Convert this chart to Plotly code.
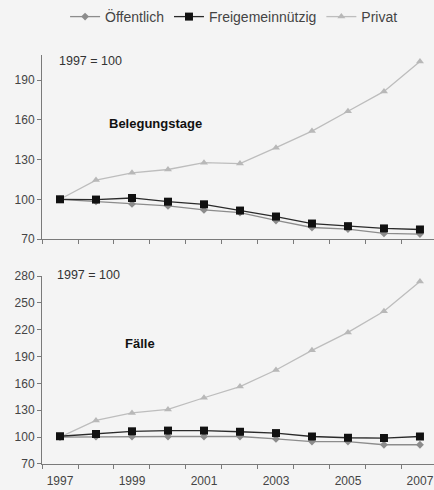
import plotly.graph_objects as go
from plotly.subplots import make_subplots

years = ["1997", "1998", "1999", "2000", "2001", "2002", "2003", "2004", "2005", "2006", "2007"]
tick_text = ["1997", "", "1999", "", "2001", "", "2003", "", "2005", "", "2007"]

# Belegungstage (1997 = 100)
bt_oeff = [100, 98.5, 96.5, 95, 92, 90, 84, 78.7, 77.5, 74.2, 73.7]
bt_frei = [100, 99.8, 101, 98.2, 96.2, 91.5, 87, 81.7, 79.7, 78, 77.2]
bt_priv = [100, 114.5, 120, 122.5, 127.7, 127, 139, 151.5, 166.5, 181.5, 204]

# Fälle (1997 = 100)
fa_oeff = [100, 100.5, 100.7, 100.7, 100.7, 100.7, 98, 95, 95, 91.5, 91.5]
fa_frei = [101, 103.5, 106.5, 107.3, 107.3, 106, 104.5, 100.7, 99.3, 99, 100.7]
fa_priv = [100, 118.6, 127, 131, 144, 156.5, 175, 197, 217, 240.6, 274]

top_ticks = [70, 100, 130, 160, 190]
bottom_ticks = [70, 100, 130, 160, 190, 220, 250, 280]

styles = {
    "Öffentlich": dict(line=dict(color="#8c8c8c", width=1.3),
                       marker=dict(symbol="diamond", size=6, color="#8c8c8c")),
    "Freigemeinnützig": dict(line=dict(color="#2a2a2a", width=1.3),
                             marker=dict(symbol="square", size=8, color="#111111")),
    "Privat": dict(line=dict(color="#bdbdbd", width=1.3),
                   marker=dict(symbol="triangle-up", size=7, color="#b8b8b8")),
}

fig = make_subplots(rows=2, cols=1)

top_data = {"Privat": bt_priv, "Öffentlich": bt_oeff, "Freigemeinnützig": bt_frei}
bot_data = {"Privat": fa_priv, "Öffentlich": fa_oeff, "Freigemeinnützig": fa_frei}

legend_order = {"Öffentlich": 1, "Freigemeinnützig": 2, "Privat": 3}
for name in ["Privat", "Öffentlich", "Freigemeinnützig"]:
    fig.add_trace(go.Scatter(x=years, y=top_data[name], name=name, mode="lines+markers",
                             legendrank=legend_order[name], showlegend=True,
                             **styles[name]), row=1, col=1)
    fig.add_trace(go.Scatter(x=years, y=bot_data[name], name=name, mode="lines+markers",
                             showlegend=False, **styles[name]), row=2, col=1)

axis_common = dict(showgrid=False, zeroline=False, showline=True, linecolor="#7a7a7a",
                   linewidth=1, ticks="outside", ticklen=4, tickcolor="#7a7a7a",
                   automargin=False,
                   tickfont=dict(family="Liberation Sans, Arial", size=12, color="#444444"))

fig.update_xaxes(type="category", categoryorder="array", categoryarray=years,
                 tickson="boundaries", tickmode="array", tickvals=years, tickangle=0,
                 range=[-0.5, 10.39], **axis_common)
fig.update_xaxes(showticklabels=False, row=1, col=1)
fig.update_xaxes(ticktext=tick_text, ticklabelstandoff=6, row=2, col=1)
fig.update_xaxes(domain=[0, 1])

fig.update_yaxes(**axis_common)
fig.update_yaxes(range=[70, 209], tickvals=top_ticks, domain=[0.5122, 0.8878], row=1, col=1)
fig.update_yaxes(range=[70, 280], tickvals=bottom_ticks, domain=[0.0531, 0.4367], row=2, col=1)

ann_font = dict(family="Liberation Sans, Arial", size=12.5, color="#333333")
bold_font = dict(family="Liberation Sans, Arial", size=13, color="#111111")
fig.add_annotation(text="1997 = 100", xref="paper", yref="paper", x=(57 - 42) / 392, y=1 - 61 / 490,
                   xanchor="left", yanchor="middle", showarrow=False, font=ann_font)
fig.add_annotation(text="1997 = 100", xref="paper", yref="paper", x=(55 - 42) / 392, y=1 - 275 / 490,
                   xanchor="left", yanchor="middle", showarrow=False, font=ann_font)
fig.add_annotation(text="<b>Belegungstage</b>", xref="paper", yref="paper", x=(107 - 42) / 392,
                   y=1 - 124 / 490, xanchor="left", yanchor="middle", showarrow=False, font=bold_font)
fig.add_annotation(text="<b>Fälle</b>", xref="paper", yref="paper", x=(123 - 42) / 392,
                   y=1 - 343 / 490, xanchor="left", yanchor="middle", showarrow=False, font=bold_font)

fig.update_layout(
    width=434, height=490,
    margin=dict(l=42, r=0, t=0, b=0),
    paper_bgcolor="#f4f4f4", plot_bgcolor="#f4f4f4",
    showlegend=True,
    legend=dict(orientation="h", x=0.49, y=1 - 17 / 490, xanchor="center", yanchor="middle",
                font=dict(family="Liberation Sans, Arial", size=14, color="#444444"),
                bgcolor="rgba(0,0,0,0)", itemwidth=30, tracegroupgap=0),
)

fig.write_html("out.html", config={"displayModeBar": False},
               post_script="document.body.style.margin='0';document.body.style.overflow='hidden';")
